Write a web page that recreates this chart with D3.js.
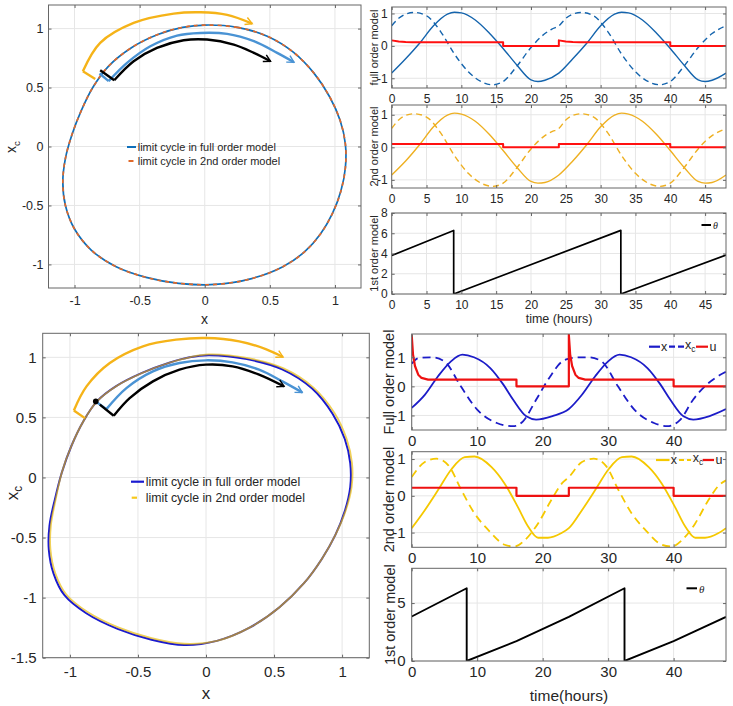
<!DOCTYPE html>
<html><head><meta charset="utf-8">
<script src="https://cdn.jsdelivr.net/npm/d3@7/dist/d3.min.js"></script>
<style>body{margin:0;background:#fff}svg{display:block}</style>
</head><body>
<svg id="c" width="733" height="706"></svg>
<script>
// ---------------- DATA ----------------
// Top-left phase portrait (x, x_c)
const tlLoopX = [0,0.25,0.48,0.68,0.84,0.96,1.04,1.08,1.08,1.045,0.98,0.89,0.77,0.60,0.36,0.08,-0.2,-0.45,-0.68,-0.87,-1.0,-1.07,-1.09,-1.07,-1.02,-0.95,-0.86,-0.74,-0.56,-0.36,-0.17];
const tlLoopY = [1.03,1.01,0.935,0.80,0.62,0.42,0.22,0.02,-0.18,-0.38,-0.57,-0.74,-0.89,-1.02,-1.12,-1.17,-1.16,-1.11,-1.02,-0.88,-0.70,-0.50,-0.30,-0.10,0.10,0.30,0.50,0.68,0.84,0.95,1.01];
// Bottom-left phase portrait
const blFullX = [0.02,0.30,0.56,0.78,0.93,1.02,1.06,1.06,1.02,0.95,0.85,0.72,0.54,0.32,0.08,-0.16,-0.40,-0.65,-0.88,-1.04,-1.12,-1.155,-1.15,-1.11,-1.06,-0.99,-0.90,-0.80,-0.66,-0.47,-0.27,-0.12];
const blFullY = [1.017,0.985,0.90,0.74,0.53,0.32,0.12,-0.08,-0.28,-0.48,-0.68,-0.88,-1.08,-1.25,-1.36,-1.395,-1.35,-1.26,-1.13,-0.98,-0.80,-0.60,-0.40,-0.18,0.04,0.26,0.47,0.635,0.76,0.87,0.955,1.0];
const bl2ndX = [0.02,0.31,0.57,0.79,0.945,1.033,1.073,1.07,1.025,0.95,0.85,0.72,0.54,0.32,0.08,-0.16,-0.40,-0.645,-0.87,-1.028,-1.108,-1.143,-1.14,-1.104,-1.06,-0.99,-0.90,-0.80,-0.66,-0.47,-0.27,-0.12];
const bl2ndY = [1.024,0.993,0.908,0.748,0.535,0.322,0.12,-0.08,-0.28,-0.48,-0.68,-0.88,-1.08,-1.25,-1.36,-1.384,-1.338,-1.248,-1.12,-0.972,-0.795,-0.60,-0.40,-0.18,0.04,0.26,0.47,0.635,0.76,0.87,0.955,1.0];

// Direction arrows (data coordinates)
const tlOrangeBracket = [[-0.841,0.573],[-0.936,0.638]];
const tlOrangeArc = [[-0.936,0.638],[-0.803,0.879],[-0.546,1.048],[-0.238,1.127],[-0.033,1.138],[0.172,1.116],[0.364,1.042]];
const tlBlueBracket = [[-0.808,0.619],[-0.738,0.554]];
const tlBlueArc = [[-0.738,0.554],[-0.597,0.709],[-0.418,0.85],[-0.213,0.941],[-0.033,0.963],[0.172,0.955],[0.377,0.893],[0.556,0.794],[0.685,0.715]];
const tlBlackBracket = [[-0.803,0.647],[-0.695,0.562]];
const tlBlackArc = [[-0.695,0.562],[-0.546,0.723],[-0.367,0.836],[-0.162,0.901],[0.018,0.907],[0.223,0.864],[0.377,0.794],[0.505,0.723]];

const blOrangeBracket = [[-0.89,0.494],[-0.971,0.558]];
const blOrangeArc = [[-0.971,0.558],[-0.878,0.758],[-0.707,0.953],[-0.463,1.092],[-0.22,1.147],[0,1.161],[0.244,1.133],[0.439,1.069],[0.566,1.003]];
const blBlueBracket = [[-0.81,0.633],[-0.732,0.569]];
const blBlueArc = [[-0.732,0.569],[-0.585,0.744],[-0.39,0.883],[-0.195,0.953],[0,0.975],[0.195,0.958],[0.39,0.897],[0.561,0.8],[0.707,0.708]];
const blBlackBracket = [[-0.78,0.606],[-0.678,0.514]];
const blBlackArc = [[-0.678,0.514],[-0.561,0.661],[-0.39,0.8],[-0.195,0.897],[0,0.939],[0.195,0.925],[0.39,0.856],[0.573,0.758]];
const blDot = [[-0.81,0.633]];

// Top-right time series (full order / 2nd order / 1st order)
const tTop = [0,2,4,6,8,9,10,12,14,16,18,20,21,22,24,26,28,30,32,33,34,36,38,40,42,44,45,46,48];
const xFullTop = [-0.84,-0.40,0.08,0.62,0.98,1.04,1.02,0.80,0.40,-0.08,-0.60,-1.05,-1.10,-1.06,-0.84,-0.40,0.08,0.62,0.98,1.04,1.02,0.80,0.40,-0.08,-0.60,-1.05,-1.10,-1.06,-0.84];
const x2ndTop = [-0.85,-0.42,0.08,0.63,0.99,1.05,1.02,0.80,0.40,-0.10,-0.62,-1.05,-1.10,-1.08,-0.85,-0.42,0.08,0.63,0.99,1.05,1.02,0.80,0.40,-0.10,-0.62,-1.05,-1.10,-1.08,-0.85];
const tXcTop = [0,1,2,3.3,5,7,9,11,13,14.5,16,18,20,22,23,24,25,26,27.3,29,31,33,35,37,38.5,40,42,44,46,47,48];
const xcFullTop = [0.62,0.85,0.98,1.03,0.93,0.45,-0.25,-0.80,-1.12,-1.20,-1.10,-0.62,-0.05,0.38,0.52,0.62,0.85,0.98,1.03,0.93,0.45,-0.25,-0.80,-1.12,-1.20,-1.10,-0.62,-0.05,0.38,0.52,0.62];
const xc2ndTop = [0.58,0.84,0.98,1.03,0.93,0.45,-0.25,-0.80,-1.12,-1.20,-1.10,-0.62,-0.05,0.36,0.48,0.58,0.84,0.98,1.03,0.93,0.45,-0.25,-0.80,-1.12,-1.20,-1.10,-0.62,-0.05,0.36,0.48,0.58];
const tUFullTop = [0,1,2,3,16,16,24,24,25,26,27,40,40,48];
const uFullTop = [0.17,0.135,0.118,0.11,0.11,0,0,0.17,0.135,0.118,0.11,0.11,0,0];
const tU2ndTop = [0,16,16,24,24,40,40,48];
const u2ndTop = [0.1,0.1,0,0,0.1,0.1,0,0];
const tThTop = [0,8.9,8.9,32.9,32.9,48];
const thTop = [3.8,6.28,0,6.28,0,3.85];

// Bottom-right time series
const tXBot = [0,2,4,6,7.75,9.5,12,14,15.5,17.5,19,21.5,24,26,28,30,31.75,33.5,36,38,39.5,41.5,43,45.5,48];
const xFullBot = [-0.74,-0.29,0.34,0.86,1.09,1.0,0.63,0.06,-0.46,-1.03,-1.14,-1.02,-0.78,-0.29,0.34,0.86,1.09,1.0,0.63,0.06,-0.46,-1.03,-1.14,-1.02,-0.78];
const tXcBot = [0,1,3,5,7.5,10,13,15.5,17,19,21,23,24,25,27,29,31.5,34,37,39,41,43,45,47,48];
const xcFullBot = [0.78,0.97,1.0,0.86,0.0,-0.8,-1.26,-1.37,-1.2,-0.46,0.29,0.86,0.95,0.99,1.0,0.86,0.0,-0.8,-1.26,-1.37,-1.15,-0.45,0.05,0.38,0.5];
const tUFullBot = [0,0.2,0.5,1,1.5,2.5,16,16,24,24,24.2,24.5,25,25.5,26.5,40,40,48];
const uFullBot = [1.77,1.1,0.7,0.4,0.29,0.23,0.23,0,0,1.77,1.1,0.7,0.4,0.29,0.23,0.23,0,0];
const tX2ndBot = [0,2,4,6.1,8.1,9.6,12.2,14.2,16.2,17.8,19.3,20.8,22.8,24,26,28,30.1,32.1,33.6,36.2,38.2,40.2,41.8,43.3,44.8,46.8,48];
const x2ndBot = [-0.88,-0.39,0.15,0.73,1.05,1.07,0.78,0.33,-0.3,-0.84,-1.14,-1.14,-1.02,-0.88,-0.39,0.15,0.73,1.05,1.07,0.78,0.33,-0.3,-0.84,-1.14,-1.14,-1.02,-0.88];
const tXc2ndBot = [0,2,3.8,5.6,7.6,9.6,11.7,14.2,15.7,17.3,19.3,21.3,23,24,26,27.8,29.6,31.6,33.6,35.7,38.2,39.7,41.3,43.3,45.3,47,48];
const xc2ndBot = [0.51,0.92,1.01,0.83,0.15,-0.48,-0.93,-1.33,-1.38,-1.2,-0.75,-0.12,0.35,0.51,0.92,1.01,0.83,0.15,-0.48,-0.93,-1.33,-1.38,-1.2,-0.75,-0.12,0.3,0.42];
const tU2ndBot = [0,16,16,24,24,40,40,48];
const u2ndBot = [0.22,0.22,0,0,0.22,0.22,0,0];
const tThBot = [0,8.4,8.4,16,24,32.5,32.5,40,48];
const thBot = [3.84,6.28,0,1.72,3.8,6.28,0,1.72,3.8];

// Tick values
const phaseTicks = [-1,-0.5,0,0.5,1];
const blYTicks = [-1.5,-1,-0.5,0,0.5,1];
const trXTicks = [0,5,10,15,20,25,30,35,40,45];
const brXTicks = [0,10,20,30,40];
const unitTicks = [-1,0,1];
const thTopTicks = [0,2,4,6,8];
const thBotTicks = [0,5];

// ---------------- DRAWING ----------------
const FONT = "'Liberation Sans', Arial, Helvetica, sans-serif";
const TXT = "#262626";
const svg = d3.select("#c").style("font-family", FONT);
const defs = svg.append("defs");
let clipN = 0;

function marker(id, color) {
  defs.append("marker").attr("id", id).attr("viewBox", "0 0 12 12")
    .attr("refX", 10).attr("refY", 6).attr("markerWidth", 4.2).attr("markerHeight", 4.2)
    .attr("orient", "auto").attr("markerUnits", "strokeWidth")
    .append("path").attr("d", "M2,1.5 L10,6 L2,10.5").attr("fill", "none")
    .attr("stroke", color).attr("stroke-width", 1.7).attr("stroke-linejoin", "miter");
}
marker("mOr", "#f5b318");
marker("mBl", "#4a93d4");
marker("mBk", "#000");

function panel(c) {
  const x = d3.scaleLinear().domain(c.xd).range([c.l, c.r]);
  const y = d3.scaleLinear().domain(c.yd).range([c.b, c.t]);
  const gGrid = svg.append("g");
  const id = "clip" + (clipN++);
  defs.append("clipPath").attr("id", id).append("rect")
    .attr("x", c.l).attr("y", c.t).attr("width", c.r - c.l).attr("height", c.b - c.t);
  const gData = svg.append("g").attr("clip-path", `url(#${id})`);
  const gAx = svg.append("g");
  gGrid.selectAll(null).data(c.xt).join("line")
    .attr("x1", d => x(d)).attr("x2", d => x(d)).attr("y1", c.t).attr("y2", c.b)
    .attr("stroke", "#e6e6e6").attr("stroke-width", 1);
  gGrid.selectAll(null).data(c.yt).join("line")
    .attr("y1", d => y(d)).attr("y2", d => y(d)).attr("x1", c.l).attr("x2", c.r)
    .attr("stroke", "#e6e6e6").attr("stroke-width", 1);
  const fmt = d => String(d);
  const style = g => {
    g.select(".domain").remove();
    g.selectAll(".tick line").attr("stroke", "#666");
    g.selectAll("text").attr("fill", TXT).style("font-size", c.fs + "px").style("font-family", FONT);
  };
  gAx.append("g").attr("transform", `translate(0,${c.b})`)
    .call(d3.axisBottom(x).tickValues(c.xt).tickSize(-3).tickPadding(c.xpad).tickFormat(fmt)).call(style);
  gAx.append("g").attr("transform", `translate(0,${c.t})`)
    .call(d3.axisTop(x).tickValues(c.xt).tickSize(-3).tickFormat("")).call(style);
  gAx.append("g").attr("transform", `translate(${c.l},0)`)
    .call(d3.axisLeft(y).tickValues(c.yt).tickSize(-3).tickPadding(c.ypad).tickFormat(fmt)).call(style);
  gAx.append("g").attr("transform", `translate(${c.r},0)`)
    .call(d3.axisRight(y).tickValues(c.yt).tickSize(-3).tickFormat("")).call(style);
  gAx.append("rect").attr("x", c.l).attr("y", c.t).attr("width", c.r - c.l).attr("height", c.b - c.t)
    .attr("fill", "none").attr("stroke", "#666").attr("stroke-width", 1);
  return {x, y, g: gData, ax: gAx};
}

function series(p, ts, vs, color, w, opts = {}) {
  const pts = ts.map((t, i) => [t, vs[i]]);
  const line = d3.line().x(d => p.x(d[0])).y(d => p.y(d[1])).curve(opts.curve || d3.curveLinear);
  const path = p.g.append("path").datum(pts).attr("d", line).attr("fill", "none")
    .attr("stroke", color).attr("stroke-width", w).attr("stroke-linejoin", "round");
  if (opts.dash) path.attr("stroke-dasharray", opts.dash);
  if (opts.opacity) path.attr("stroke-opacity", opts.opacity);
  return path;
}
function loop(p, xs, ys, color, w, opts = {}) {
  const pts = xs.map((v, i) => [v, ys[i]]);
  const line = d3.line().x(d => p.x(d[0])).y(d => p.y(d[1])).curve(d3.curveCatmullRomClosed.alpha(0.5));
  const path = p.g.append("path").datum(pts).attr("d", line).attr("fill", "none")
    .attr("stroke", color).attr("stroke-width", w);
  if (opts.dash) path.attr("stroke-dasharray", opts.dash);
  if (opts.opacity) path.attr("stroke-opacity", opts.opacity);
}
function arrow(p, pts, color, w, mk, curved) {
  const line = d3.line().x(d => p.x(d[0])).y(d => p.y(d[1]))
    .curve(curved ? d3.curveCatmullRom.alpha(0.5) : d3.curveLinear);
  const path = p.ax.append("path").datum(pts).attr("d", line).attr("fill", "none")
    .attr("stroke", color).attr("stroke-width", w).attr("stroke-linejoin", "miter");
  if (mk) path.attr("marker-end", `url(#${mk})`);
}
function text(x, y, s, fs, opts = {}) {
  const t = svg.append("text").attr("x", x).attr("y", y).attr("fill", TXT)
    .style("font-size", fs + "px").attr("dominant-baseline", "central")
    .attr("text-anchor", opts.anchor || "middle").text(s);
  if (opts.rot) t.attr("transform", `rotate(-90,${x},${y})`);
  if (opts.italic) t.style("font-style", "italic").style("font-family", "'Liberation Serif', 'Times New Roman', serif");
  return t;
}
function xcText(x, y, fs, rot) {
  const t = svg.append("text").attr("fill", TXT).style("font-size", fs + "px")
    .attr("text-anchor", "middle").attr("dominant-baseline", "central");
  if (rot) t.attr("transform", `translate(${x},${y}) rotate(-90)`); else t.attr("transform", `translate(${x},${y})`);
  t.append("tspan").text("x");
  t.append("tspan").attr("dy", fs * 0.35).style("font-size", (fs * 0.7) + "px").text("c");
}

// ---- Top-left phase portrait ----
const TL = panel({l: 48.5, r: 361, t: 5, b: 288, xd: [-1.2, 1.2], yd: [-1.2, 1.2], xt: phaseTicks, yt: phaseTicks, fs: 12.5, xpad: 8.5, ypad: 5});
loop(TL, tlLoopX, tlLoopY, "#0f6fba", 1.7);
loop(TL, tlLoopX, tlLoopY, "#e0692a", 1.7, {dash: "4,4"});
arrow(TL, tlOrangeBracket, "#f5b318", 2.4, null, false);
arrow(TL, tlOrangeArc, "#f5b318", 2.4, "mOr", true);
arrow(TL, tlBlueBracket, "#4a93d4", 2.4, null, false);
arrow(TL, tlBlueArc, "#4a93d4", 2.4, "mBl", true);
arrow(TL, tlBlackBracket, "#000", 2.4, null, false);
arrow(TL, tlBlackArc, "#000", 2.4, "mBk", true);
// legend
svg.append("line").attr("x1", 127).attr("x2", 136).attr("y1", 147).attr("y2", 147).attr("stroke", "#0f6fba").attr("stroke-width", 2);
svg.append("line").attr("x1", 128.5).attr("x2", 133.5).attr("y1", 161).attr("y2", 161).attr("stroke", "#e0692a").attr("stroke-width", 2);
text(137.7, 147, "limit cycle in full order model", 11, {anchor: "start"});
text(137.7, 161, "limit cycle in 2nd order model", 11, {anchor: "start"});
text(204.5, 319, "x", 14);
xcText(11, 147, 14, true);

// ---- Top-right panels ----
const TR1 = panel({l: 391.7, r: 726, t: 7, b: 88, xd: [0, 48], yd: [-1.3, 1.2], xt: trXTicks, yt: unitTicks, fs: 12, xpad: 6.3, ypad: 4});
series(TR1, tXcTop, xcFullTop, "#1464ad", 1.4, {curve: d3.curveMonotoneX, dash: "6,4"});
series(TR1, tTop, xFullTop, "#1464ad", 1.4, {curve: d3.curveMonotoneX});
series(TR1, tUFullTop, uFullTop, "#ff1010", 2, {curve: d3.curveLinear});
text(374, 47.5, "full order model", 11, {rot: true});

const TR2 = panel({l: 391.7, r: 726, t: 105, b: 188, xd: [0, 48], yd: [-1.25, 1.3], xt: trXTicks, yt: unitTicks, fs: 12, xpad: 6.3, ypad: 4});
series(TR2, tXcTop, xc2ndTop, "#eeb022", 1.4, {curve: d3.curveMonotoneX, dash: "6,4"});
series(TR2, tTop, x2ndTop, "#eeb022", 1.4, {curve: d3.curveMonotoneX});
series(TR2, tU2ndTop, u2ndTop, "#ff1010", 2);
text(374, 146.5, "2nd order model", 11, {rot: true});

const TR3 = panel({l: 391.7, r: 726, t: 213, b: 294, xd: [0, 48], yd: [0, 8], xt: trXTicks, yt: thTopTicks, fs: 12, xpad: 6.3, ypad: 4});
series(TR3, tThTop, thTop, "#000", 1.7);
text(374, 253.5, "1st order model", 11, {rot: true});
text(559, 318.5, "time (hours)", 12.5);
svg.append("line").attr("x1", 701.5).attr("x2", 711).attr("y1", 225).attr("y2", 225).attr("stroke", "#000").attr("stroke-width", 2);
text(713, 225.5, "θ", 10, {anchor: "start", italic: true});

// ---- Bottom-left phase portrait ----
const BL = panel({l: 42.7, r: 369.3, t: 333.3, b: 657.7, xd: [-1.2, 1.2], yd: [-1.5, 1.2], xt: phaseTicks, yt: blYTicks, fs: 15, xpad: 8.7, ypad: 6});
loop(BL, blFullX, blFullY, "#1a1ad0", 2);
loop(BL, bl2ndX, bl2ndY, "#e8b800", 1.8, {opacity: 0.65});
arrow(BL, blOrangeBracket, "#f5b318", 2.4, null, false);
arrow(BL, blOrangeArc, "#f5b318", 2.4, "mOr", true);
arrow(BL, blBlueBracket, "#4a93d4", 2.4, null, false);
arrow(BL, blBlueArc, "#4a93d4", 2.4, "mBl", true);
arrow(BL, blBlackBracket, "#000", 2.4, null, false);
arrow(BL, blBlackArc, "#000", 2.4, "mBk", true);
BL.ax.selectAll(null).data(blDot).join("circle").attr("cx", d => BL.x(d[0])).attr("cy", d => BL.y(d[1])).attr("r", 2.8).attr("fill", "#000");
svg.append("line").attr("x1", 131).attr("x2", 144).attr("y1", 481.7).attr("y2", 481.7).attr("stroke", "#1a1ad0").attr("stroke-width", 2.2);
svg.append("line").attr("x1", 131.7).attr("x2", 137).attr("y1", 497.7).attr("y2", 497.7).attr("stroke", "#f7c81c").attr("stroke-width", 2.2);
text(145.7, 481.7, "limit cycle in full order model", 12.3, {anchor: "start"});
text(145.7, 497.7, "limit cycle in 2nd order model", 12.3, {anchor: "start"});
text(206, 693, "x", 17);
xcText(12, 493, 17, true);

// ---- Bottom-right panels ----
const BR1 = panel({l: 411.7, r: 726, t: 334, b: 430, xd: [0, 48], yd: [-1.5, 1.8], xt: brXTicks, yt: unitTicks, fs: 15, xpad: 5, ypad: 6});
series(BR1, tXcBot, xcFullBot, "#1c1cc8", 1.8, {curve: d3.curveMonotoneX, dash: "8,5"});
series(BR1, tXBot, xFullBot, "#1c1cc8", 1.8, {curve: d3.curveMonotoneX});
series(BR1, tUFullBot, uFullBot, "#ee1111", 2.2);
text(389, 382, "Full order model", 14.5, {rot: true});
// legend
svg.append("line").attr("x1", 649).attr("x2", 660).attr("y1", 346.7).attr("y2", 346.7).attr("stroke", "#1c1cc8").attr("stroke-width", 2.2);
text(661, 346.7, "x", 12.5, {anchor: "start"});
svg.append("line").attr("x1", 669).attr("x2", 684).attr("y1", 346.7).attr("y2", 346.7).attr("stroke", "#1c1cc8").attr("stroke-width", 2.2).attr("stroke-dasharray", "6,3");
{ const t = svg.append("text").attr("x", 685).attr("y", 345).attr("fill", TXT).style("font-size", "12.5px").attr("dominant-baseline", "central");
  t.append("tspan").text("x"); t.append("tspan").attr("dy", 4).style("font-size", "8.5px").text("c"); }
svg.append("line").attr("x1", 696).attr("x2", 708).attr("y1", 346.7).attr("y2", 346.7).attr("stroke", "#ee1111").attr("stroke-width", 2.2);
text(709.5, 346.7, "u", 12.5, {anchor: "start"});

const BR2 = panel({l: 411.7, r: 726, t: 451.7, b: 547.3, xd: [0, 48], yd: [-1.4, 1.2], xt: brXTicks, yt: unitTicks, fs: 15, xpad: 5, ypad: 6});
series(BR2, tXc2ndBot, xc2ndBot, "#f5c800", 1.8, {curve: d3.curveMonotoneX, dash: "8,5"});
series(BR2, tX2ndBot, x2ndBot, "#f5c800", 1.8, {curve: d3.curveMonotoneX});
series(BR2, tU2ndBot, u2ndBot, "#ee1111", 2.2);
text(389, 499.5, "2nd order model", 14.5, {rot: true});
svg.append("line").attr("x1", 656).attr("x2", 669.5).attr("y1", 460).attr("y2", 460).attr("stroke", "#f5c800").attr("stroke-width", 2.2);
text(670.7, 460, "x", 12.5, {anchor: "start"});
svg.append("line").attr("x1", 679).attr("x2", 691).attr("y1", 460).attr("y2", 460).attr("stroke", "#f5c800").attr("stroke-width", 2.2).attr("stroke-dasharray", "5,3");
{ const t = svg.append("text").attr("x", 692.7).attr("y", 458.3).attr("fill", TXT).style("font-size", "12.5px").attr("dominant-baseline", "central");
  t.append("tspan").text("x"); t.append("tspan").attr("dy", 4).style("font-size", "8.5px").text("c"); }
svg.append("line").attr("x1", 702.7).attr("x2", 714).attr("y1", 460).attr("y2", 460).attr("stroke", "#ee1111").attr("stroke-width", 2.2);
text(715.5, 460, "u", 12.5, {anchor: "start"});

const BR3 = panel({l: 411.7, r: 726, t: 568.3, b: 661, xd: [0, 48], yd: [0, 8], xt: brXTicks, yt: thBotTicks, fs: 15, xpad: 5, ypad: 6});
series(BR3, tThBot, thBot, "#000", 1.9);
text(390, 614.7, "1st order model", 14.5, {rot: true});
text(569, 695, "time(hours)", 15.5);
svg.append("line").attr("x1", 686.5).attr("x2", 697).attr("y1", 588.3).attr("y2", 588.3).attr("stroke", "#000").attr("stroke-width", 2);
text(699, 589, "θ", 11, {anchor: "start", italic: true});
</script>
</body></html>
